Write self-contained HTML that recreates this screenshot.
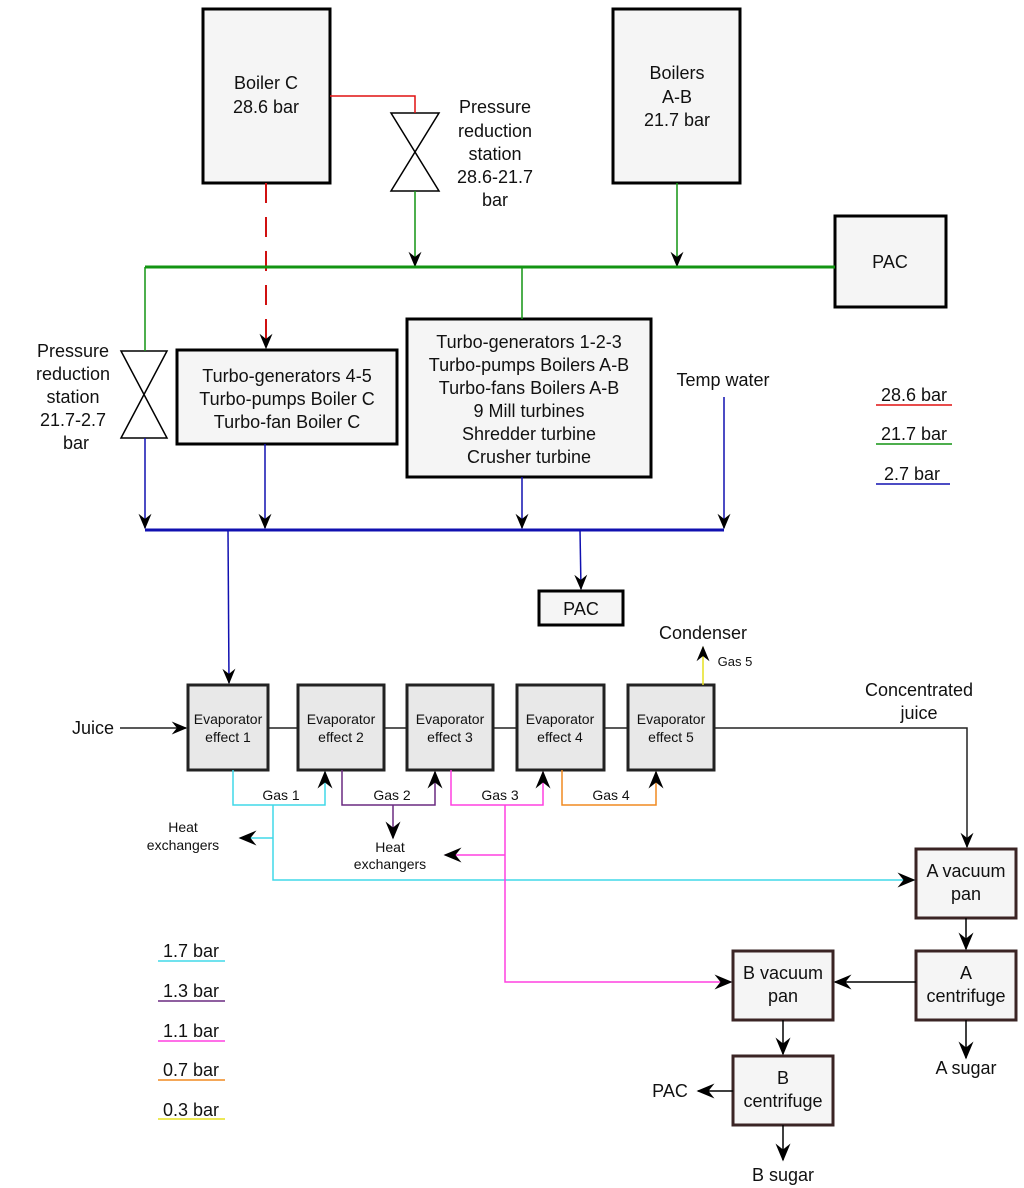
<!DOCTYPE html>
<html><head><meta charset="utf-8"><style>
html,body{margin:0;padding:0;background:#fff}
svg{display:block;font-family:"Liberation Sans","DejaVu Sans",sans-serif}
</style></head><body>
<svg width="1024" height="1188" viewBox="0 0 1024 1188" xmlns="http://www.w3.org/2000/svg">
<defs>
<marker id="a" viewBox="0 0 12 10" refX="11" refY="5" markerWidth="18" markerHeight="13" markerUnits="userSpaceOnUse" orient="auto">
<path d="M0,0 L12,5 L0,10 L4,5 z" fill="#000"/></marker>
<marker id="b" viewBox="0 0 12 10" refX="11" refY="5" markerWidth="20" markerHeight="15" markerUnits="userSpaceOnUse" orient="auto">
<path d="M0,0 L12,5 L0,10 L4,5 z" fill="#000"/></marker>
</defs>
<g fill="#f5f5f5" stroke="#000" stroke-width="3">
<rect x="203" y="9" width="127" height="174"/>
<rect x="613" y="9" width="127" height="174"/>
<rect x="835" y="216" width="111" height="91"/>
<rect x="177" y="350" width="220" height="94"/>
<rect x="407" y="319" width="244" height="158"/>
<rect x="539" y="591" width="84" height="34"/>
</g>
<g fill="#e8e8e8" stroke="#222" stroke-width="3">
<rect x="188" y="685" width="80" height="85"/>
<rect x="298" y="685" width="86" height="85"/>
<rect x="407" y="685" width="86" height="85"/>
<rect x="517" y="685" width="87" height="85"/>
<rect x="628" y="685" width="86" height="85"/>
</g>
<g fill="#f5f5f5" stroke="#3a2424" stroke-width="3">
<rect x="916" y="849" width="100" height="69"/>
<rect x="916" y="951" width="100" height="69"/>
<rect x="733" y="951" width="100" height="69"/>
<rect x="733" y="1056" width="100" height="69"/>
</g>
<g fill="#fff" stroke="#000" stroke-width="1.5">
<path d="M391,113 L439,113 L391,191 L439,191 Z"/>
<path d="M121,351 L167,351 L121,438 L167,438 Z"/>
</g>
<path d="M330,96 H415 V113" fill="none" stroke="#e01010" stroke-width="1.5"/>
<path d="M266,183 V348" fill="none" stroke="#d01010" stroke-width="2" stroke-dasharray="20,14" marker-end="url(#a)"/>
<g fill="none" stroke="#129412" stroke-width="1.5">
<path d="M415,191 V266" marker-end="url(#a)"/>
<path d="M677,183 V266" marker-end="url(#a)"/>
<path d="M522,267 V319"/>
<path d="M145,267 V351"/>
<path d="M145,267 H835" stroke-width="3"/>
</g>
<g fill="none" stroke="#1010b0" stroke-width="1.5">
<path d="M145,438 V528" marker-end="url(#a)"/>
<path d="M265,444 V528" marker-end="url(#a)"/>
<path d="M522,477 V528" marker-end="url(#a)"/>
<path d="M724,397 V528" marker-end="url(#a)"/>
<path d="M145,530 H724" stroke-width="3"/>
<path d="M228,530 L229,683" marker-end="url(#a)"/>
<path d="M580,530 L581,589" marker-end="url(#a)"/>
</g>
<path d="M703,685 V647" fill="none" stroke="#e6e020" stroke-width="1.5" marker-end="url(#a)"/>
<g fill="none" stroke="#222" stroke-width="1.5">
<path d="M120,728 H186" marker-end="url(#a)"/>
<path d="M268,728 H298 M384,728 H407 M493,728 H517 M604,728 H628"/>
<path d="M714,728 H967 V847" marker-end="url(#a)"/>
</g>
<g fill="none" stroke-width="1.5">
<path d="M233,770 V805 H325 V772" stroke="#40d8e8" marker-end="url(#b)"/>
<path d="M273,805 V880 H914" stroke="#40d8e8" marker-end="url(#b)"/>
<path d="M273,838 H240" stroke="#40d8e8" marker-end="url(#b)"/>
<path d="M342,770 V805 H435 V772" stroke="#6a2a80" marker-end="url(#b)"/>
<path d="M393,805 V838" stroke="#6a2a80" marker-end="url(#b)"/>
<path d="M451,770 V805 H543 V772" stroke="#ff40e0" marker-end="url(#b)"/>
<path d="M505,805 V982 H731" stroke="#ff40e0" marker-end="url(#b)"/>
<path d="M505,855 H445" stroke="#ff40e0" marker-end="url(#b)"/>
<path d="M562,770 V805 H656 V772" stroke="#f08a20" marker-end="url(#b)"/>
</g>
<g fill="none" stroke="#000" stroke-width="1.5">
<path d="M966,918 V949" marker-end="url(#b)"/>
<path d="M916,982 H835" marker-end="url(#b)"/>
<path d="M966,1020 V1058" marker-end="url(#b)"/>
<path d="M783,1020 V1054" marker-end="url(#b)"/>
<path d="M733,1091 H698" marker-end="url(#b)"/>
<path d="M783,1125 V1160" marker-end="url(#b)"/>
</g>
<g stroke-width="1.5">
<line x1="876" y1="405" x2="952" y2="405" stroke="#e01010"/>
<line x1="876" y1="444" x2="952" y2="444" stroke="#129412"/>
<line x1="876" y1="484" x2="950" y2="484" stroke="#1010b0"/>
<line x1="158" y1="961" x2="225" y2="961" stroke="#40d8e8"/>
<line x1="158" y1="1001" x2="225" y2="1001" stroke="#6a2a80"/>
<line x1="158" y1="1041" x2="225" y2="1041" stroke="#ff40e0"/>
<line x1="158" y1="1080" x2="225" y2="1080" stroke="#f08a20"/>
<line x1="158" y1="1119" x2="225" y2="1119" stroke="#e6e020"/>
</g>
<g font-size="18" fill="#111" text-anchor="middle">
<text x="266" y="89">Boiler C</text><text x="266" y="113">28.6 bar</text>
<text x="677" y="79">Boilers</text><text x="677" y="103">A-B</text><text x="677" y="126">21.7 bar</text>
<text x="495" y="113">Pressure</text><text x="495" y="137">reduction</text><text x="495" y="160">station</text><text x="495" y="183">28.6-21.7</text><text x="495" y="206">bar</text>
<text x="890" y="268">PAC</text>
<text x="73" y="357">Pressure</text><text x="73" y="380">reduction</text><text x="73" y="403">station</text><text x="73" y="426">21.7-2.7</text><text x="76" y="449">bar</text>
<text x="287" y="382">Turbo-generators 4-5</text><text x="287" y="405">Turbo-pumps Boiler C</text><text x="287" y="428">Turbo-fan Boiler C</text>
<text x="529" y="348">Turbo-generators 1-2-3</text><text x="529" y="371">Turbo-pumps Boilers A-B</text><text x="529" y="394">Turbo-fans Boilers A-B</text><text x="529" y="417">9 Mill turbines</text><text x="529" y="440">Shredder turbine</text><text x="529" y="463">Crusher turbine</text>
<text x="723" y="386">Temp water</text>
<text x="914" y="401">28.6 bar</text><text x="914" y="440">21.7 bar</text><text x="912" y="480">2.7 bar</text>
<text x="581" y="615">PAC</text>
<text x="703" y="639">Condenser</text>
<text x="919" y="696">Concentrated</text><text x="919" y="719">juice</text>
<text x="93" y="734">Juice</text>
<text x="966" y="877">A vacuum</text><text x="966" y="900">pan</text>
<text x="966" y="979">A</text><text x="966" y="1002">centrifuge</text>
<text x="783" y="979">B vacuum</text><text x="783" y="1002">pan</text>
<text x="783" y="1084">B</text><text x="783" y="1107">centrifuge</text>
<text x="966" y="1074">A sugar</text>
<text x="670" y="1097">PAC</text>
<text x="783" y="1181">B sugar</text>
<text x="191" y="957">1.7 bar</text><text x="191" y="997">1.3 bar</text><text x="191" y="1037">1.1 bar</text><text x="191" y="1076">0.7 bar</text><text x="191" y="1116">0.3 bar</text>
</g>
<g font-size="14" fill="#111" text-anchor="middle">
<text x="228" y="724">Evaporator</text><text x="228" y="742">effect 1</text>
<text x="341" y="724">Evaporator</text><text x="341" y="742">effect 2</text>
<text x="450" y="724">Evaporator</text><text x="450" y="742">effect 3</text>
<text x="560" y="724">Evaporator</text><text x="560" y="742">effect 4</text>
<text x="671" y="724">Evaporator</text><text x="671" y="742">effect 5</text>
<text x="281" y="800">Gas 1</text><text x="392" y="800">Gas 2</text><text x="500" y="800">Gas 3</text><text x="611" y="800">Gas 4</text>
<text x="735" y="666" font-size="13">Gas 5</text>
<text x="183" y="832">Heat</text><text x="183" y="850">exchangers</text>
<text x="390" y="852">Heat</text><text x="390" y="869">exchangers</text>
</g>
</svg>
</body></html>
